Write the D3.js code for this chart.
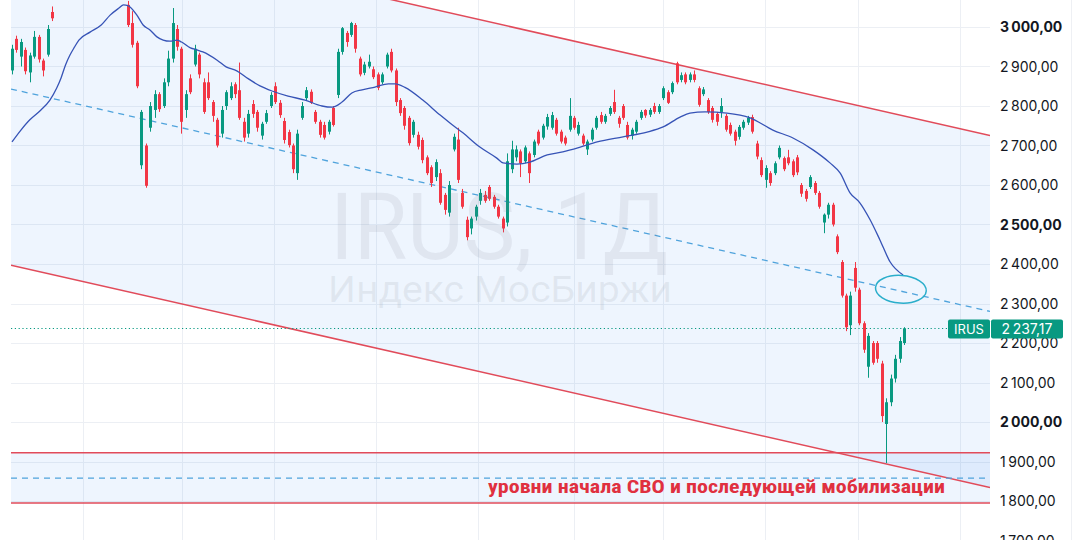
<!DOCTYPE html>
<html><head><meta charset="utf-8">
<script src="https://cdn.jsdelivr.net/npm/d3@7"></script>
<style>html,body{margin:0;padding:0;background:#fff;} svg{display:block;font-family:Inter,Roboto,"Noto Sans",sans-serif;}</style>
</head><body>
<svg id="chart" width="1080" height="540"></svg>
<script>
// ---- daily candles (bar index 0..200, nulls = no trading) ----
const open = [2890,2970,2925,2942,2885,2925,2975,2915,2930,3038,
 null,null,null,null,null,null,null,null,null,null,null,null,null,null,null,null,
 3056,3010,2960,2650,2700,2745,2790,2830,2800,2860,
 2920,2995,2945,2790,2870,2905,2930,2860,2860,2810,
 2765,2730,2800,2820,2855,2840,2760,2730,2805,2785,
 2725,2760,2800,2850,2808,2762,2734,2700,2630,2770,
 2820,2836,2785,2760,2752,2735,2795,2828,2937,2985,
 2980,3005,2920,2884,2900,2893,2880,2860,2900,2937,
 2890,2815,2795,2770,2727,2727,2714,2670,2645,2620,
 2630,2575,2530,2690,2715,2580,2512,2490,2520,2560,
 2575,2595,2570,2545,2515,2505,2640,2670,2685,2660,
 2680,2676,2735,2720,2748,2745,2765,2735,2720,2740,
 2770,2730,2725,2690,2715,2745,2777,2760,2780,2810,
 2770,2800,2752,2725,2735,2770,2790,2778,2800,2785,
 2820,2835,2835,2908,2866,2880,2866,2880,2845,2830,
 2815,2795,2780,2785,2775,2752,2735,2722,2745,2758,
 2772,2705,2663,2613,2630,2630,2670,2668,2670,2660,
 2670,2600,2585,2595,2605,2580,2505,2525,2550,2470,
 2405,2320,2245,2390,2335,2250,2140,2200,2200,2148,
 1995,2050,2110,2160,2200];
const high = [2955,2978,2970,2948,2935,2990,2980,2920,3005,3052,
 null,null,null,null,null,null,null,null,null,null,null,null,null,null,null,null,
 3066,3040,2965,2790,2705,2810,2840,2835,2870,2940,
 3048,3005,2950,2840,2880,2955,2935,2870,2885,2815,
 2770,2800,2840,2860,2860,2910,2770,2790,2815,2790,
 2760,2790,2835,2860,2815,2770,2740,2705,2740,2810,
 2848,2842,2790,2765,2760,2765,2800,2945,3000,2990,
 3013,3010,2925,2912,2930,2900,2885,2885,2935,2945,
 2895,2820,2800,2775,2765,2735,2720,2675,2650,2665,
 2640,2580,2610,2730,2745,2590,2520,2520,2550,2590,
 2585,2600,2575,2550,2520,2680,2712,2700,2690,2700,
 2685,2715,2740,2755,2780,2785,2770,2740,2725,2820,
 2775,2760,2730,2715,2745,2775,2785,2780,2800,2841,
 2775,2805,2760,2745,2765,2790,2792,2795,2808,2805,
 2850,2840,2862,2912,2885,2885,2885,2890,2850,2848,
 2820,2800,2785,2820,2780,2758,2740,2752,2765,2775,
 2778,2712,2670,2650,2635,2660,2700,2672,2689,2665,
 2676,2605,2590,2625,2610,2585,2528,2555,2555,2475,
 2410,2325,2330,2405,2340,2255,2225,2205,2205,2155,
 2060,2120,2170,2215,2240];
const low = [2880,2935,2900,2880,2860,2920,2910,2875,2925,3015,
 null,null,null,null,null,null,null,null,null,null,null,null,null,null,null,null,
 3000,2948,2845,2640,2593,2735,2770,2785,2795,2850,
 2910,2940,2730,2770,2830,2900,2870,2780,2815,2760,
 2695,2720,2790,2815,2820,2765,2710,2720,2770,2735,
 2715,2755,2795,2805,2770,2705,2695,2630,2613,2765,
 2815,2805,2755,2720,2715,2728,2748,2820,2930,2950,
 2975,2935,2875,2878,2895,2868,2840,2855,2895,2885,
 2800,2775,2740,2700,2720,2690,2655,2625,2595,2610,
 2550,2525,2520,2685,2605,2540,2460,2475,2510,2550,
 2555,2560,2540,2515,2480,2495,2630,2660,2620,2655,
 2605,2670,2700,2715,2740,2740,2725,2705,2700,2735,
 2740,2725,2700,2676,2710,2740,2755,2755,2775,2780,
 2745,2765,2715,2715,2730,2765,2770,2772,2780,2780,
 2815,2805,2830,2855,2860,2855,2860,2860,2798,2825,
 2780,2758,2750,2770,2735,2725,2700,2715,2740,2752,
 2730,2665,2620,2593,2598,2625,2665,2635,2650,2620,
 2625,2570,2558,2590,2575,2540,2478,2515,2495,2425,
 2315,2230,2220,2330,2245,2175,2112,2145,2150,2000,
 1896,2040,2100,2150,2195];
const close = [2945,2942,2962,2888,2928,2975,2918,2890,2995,3022,
 null,null,null,null,null,null,null,null,null,null,null,null,null,null,null,null,
 3005,2955,2850,2785,2598,2800,2830,2792,2860,2920,
 3010,2950,2760,2830,2835,2945,2880,2785,2820,2775,
 2700,2790,2835,2850,2830,2770,2720,2780,2780,2745,
 2755,2782,2828,2810,2777,2714,2701,2640,2730,2800,
 2840,2808,2760,2727,2720,2760,2752,2937,2997,2962,
 3010,2945,2880,2905,2912,2873,2846,2880,2930,2890,
 2810,2782,2750,2706,2760,2697,2663,2630,2605,2658,
 2555,2537,2600,2722,2613,2545,2468,2515,2545,2580,
 2560,2565,2545,2520,2490,2660,2690,2690,2655,2695,
 2630,2710,2705,2750,2772,2777,2730,2710,2705,2775,
 2745,2752,2705,2710,2740,2770,2760,2775,2795,2785,
 2755,2770,2720,2740,2760,2785,2776,2790,2785,2800,
 2845,2808,2858,2860,2878,2860,2880,2866,2803,2842,
 2785,2765,2760,2800,2740,2730,2712,2747,2760,2770,
 2735,2672,2625,2643,2605,2655,2694,2640,2655,2625,
 2632,2578,2565,2620,2580,2545,2525,2550,2500,2430,
 2320,2240,2320,2340,2250,2183,2218,2150,2160,2015,
 2050,2110,2160,2205,2237.17];

// ---- moving average ----
const maIndex = [0,2,4,6,8.5,10,11,12,13,14,15,17.5,20,22,24,25,26,28,29.4,31,32.5,33.9,35.4,37,38,40,41.5,42.8,46,48,50.4,52.7,55.6,58.3,61.9,65.7,69.5,71.8,74,76.2,78.5,81.4,84.4,86,88.1,92.1,96,98.2,101.1,104.9,108.7,110.1,113.2,116.1,120,123.5,127.4,131.2,137,142.4,146,149.8,152,155.4,160.3,165.5,170.6,175.1,179.6,183.4,185.7,187.9,190.1,192.4,194.6,196.9,199.8];
const maValue = [2709,2739,2765,2785,2815,2845,2871,2904,2929,2949,2967,2987,3005,3030,3048,3056,3054,3030,3005,2992,2975,2967,2964,2967,2962,2947,2942,2937,2916,2899,2889,2871,2851,2838,2825,2815,2800,2797,2810,2833,2841,2848,2856,2856,2847,2815,2777,2757,2732,2696,2668,2656,2653,2658,2676,2684,2696,2709,2722,2734,2747,2772,2782,2785,2782,2770,2739,2719,2689,2656,2630,2580,2555,2512,2461,2405,2372];

// ---- drawings ----
const channelUpper = [3288, 2725];
const channelMiddle = [2843, 2280];
const channelLower = [2397, 1834];
const levelTop = 1922, levelMid = 1858, levelBottom = 1795;
const monthIdx = [15.9, 38.1, 58.7, 81.6, 104.5, 126, 146, 168.8, 189.7, 212.6];
const priceTicks = d3.range(1700, 3001, 100);
const lastPrice = 2237.17;
const ticker = "IRUS";
const watermark1 = "IRUS, 1Д";
const watermark2 = "Индекс МосБиржи";
const noteText = "уровни начала СВО и последующей мобилизации";
const ellipseAt = {i: 199.3, v: 2336, di: 5.7, dv: 35};

const svg = d3.select('#chart');
const L = 11, R = 990;
const x = d3.scaleLinear().domain([0, 200]).range([12, 904]);
const y = d3.scaleLinear().domain([1700, 3000]).range([540.5, 27]);
const iL = x.invert(L), iR = x.invert(R);

const fmt = d3.formatLocale({decimal: ",", thousands: "\u2009", grouping: [3], currency: ["", ""]}).format(",.2f");

svg.append('rect').attr('width', 1080).attr('height', 540).attr('fill', '#fff');
const defs = svg.append('defs');
defs.append('clipPath').attr('id', 'plot').append('rect').attr('x', L).attr('y', 0).attr('width', R - L).attr('height', 540);
const g = svg.append('g').attr('clip-path', 'url(#plot)');

// grid
g.selectAll('.hg').data(priceTicks).join('line')
  .attr('x1', L).attr('x2', R).attr('y1', d => Math.round(y(d)) + 0.5).attr('y2', d => Math.round(y(d)) + 0.5)
  .attr('stroke', '#eceff4').attr('stroke-width', 1);
g.selectAll('.vg').data(monthIdx).join('line')
  .attr('x1', d => Math.round(x(d)) + 0.5).attr('x2', d => Math.round(x(d)) + 0.5).attr('y1', 0).attr('y2', 540)
  .attr('stroke', '#eceff4').attr('stroke-width', 1);

// channel fill
const chan = [{i: iL, hi: channelUpper[0], lo: channelLower[0]}, {i: iR, hi: channelUpper[1], lo: channelLower[1]}];
g.append('path').datum(chan).attr('d', d3.area().x(d => x(d.i)).y0(d => y(d.lo)).y1(d => y(d.hi)))
  .attr('fill', 'rgba(33,120,243,0.075)');
// level band fill
g.append('rect').attr('x', L).attr('width', R - L).attr('y', y(levelTop)).attr('height', y(levelBottom) - y(levelTop))
  .attr('fill', 'rgba(33,120,243,0.075)');

// watermark
svg.append('text').attr('x', 499).attr('y', 259).attr('text-anchor', 'middle')
  .attr('font-family', 'Roboto, Inter, sans-serif').attr('font-size', 92).attr('textLength', 338).attr('lengthAdjust', 'spacingAndGlyphs')
  .attr('fill', 'rgba(120,126,140,0.12)').text(watermark1);
svg.append('text').attr('x', 500).attr('y', 302).attr('text-anchor', 'middle')
  .attr('font-family', 'Roboto, Inter, sans-serif').attr('font-size', 36).attr('textLength', 344).attr('lengthAdjust', 'spacingAndGlyphs')
  .attr('fill', 'rgba(120,126,140,0.12)').text(watermark2);

// channel lines
const line2 = (vals) => [[iL, vals[0]], [iR, vals[1]]];
const ln = d3.line().x(d => x(d[0])).y(d => y(d[1]));
g.append('path').attr('d', ln(line2(channelUpper))).attr('stroke', '#e14b5a').attr('stroke-width', 1.5).attr('fill', 'none');
g.append('path').attr('d', ln(line2(channelLower))).attr('stroke', '#e14b5a').attr('stroke-width', 1.5).attr('fill', 'none');
g.append('path').attr('d', ln(line2(channelMiddle))).attr('stroke', '#4fa3dc').attr('stroke-width', 1.3)
  .attr('stroke-dasharray', '6,5').attr('fill', 'none');
// horizontal levels
[levelTop, levelBottom].forEach(v => {
  g.append('line').attr('x1', L).attr('x2', R).attr('y1', y(v)).attr('y2', y(v)).attr('stroke', '#e14b5a').attr('stroke-width', 1.5);
});
g.append('line').attr('x1', L).attr('x2', R).attr('y1', y(levelMid)).attr('y2', y(levelMid))
  .attr('stroke', '#4fa3dc').attr('stroke-width', 1.3).attr('stroke-dasharray', '6,5');

// last price dotted line
g.append('line').attr('x1', L).attr('x2', 948).attr('y1', Math.round(y(lastPrice)) + 0.5).attr('y2', Math.round(y(lastPrice)) + 0.5)
  .attr('stroke', '#089981').attr('stroke-width', 1).attr('stroke-dasharray', '1.2,2.6');

// candles
const bars = d3.range(open.length).filter(i => open[i] != null).map(i => ({i, o: open[i], h: high[i], l: low[i], c: close[i]}));
const up = '#089981', dn = '#f23645';
const cg = g.append('g');
cg.selectAll('.w').data(bars).join('line')
  .attr('x1', d => Math.round(x(d.i)) + 0.5).attr('x2', d => Math.round(x(d.i)) + 0.5)
  .attr('y1', d => y(d.h)).attr('y2', d => y(d.l))
  .attr('stroke', d => d.c >= d.o ? up : dn).attr('stroke-width', 1);
cg.selectAll('.b').data(bars).join('rect')
  .attr('x', d => Math.round(x(d.i)) - 1).attr('width', 3)
  .attr('y', d => y(Math.max(d.o, d.c))).attr('height', d => Math.max(1, Math.abs(y(d.o) - y(d.c))))
  .attr('fill', d => d.c >= d.o ? up : dn);

// moving average
g.append('path').datum(d3.zip(maIndex, maValue))
  .attr('d', d3.line().x(d => x(d[0])).y(d => y(d[1])).curve(d3.curveMonotoneX))
  .attr('fill', 'none').attr('stroke', '#3653b6').attr('stroke-width', 1.3);

// ellipse annotation
g.append('ellipse').attr('cx', x(ellipseAt.i)).attr('cy', y(ellipseAt.v))
  .attr('rx', x(ellipseAt.i + ellipseAt.di) - x(ellipseAt.i)).attr('ry', y(ellipseAt.v - ellipseAt.dv) - y(ellipseAt.v))
  .attr('fill', 'none').attr('stroke', '#2aaecb').attr('stroke-width', 1.5)
  .attr('transform', `rotate(4 ${x(ellipseAt.i)} ${y(ellipseAt.v)})`);

// note text
svg.append('text').attr('x', 488).attr('y', 493)
  .attr('font-family', '"Liberation Sans Narrow", "Roboto Condensed", Roboto, sans-serif').attr('font-weight', 700).attr('font-size', 19)
  .attr('textLength', 457).attr('lengthAdjust', 'spacingAndGlyphs').attr('fill', '#e0303f').text(noteText);

// price axis
svg.append('line').attr('x1', 1071.5).attr('x2', 1071.5).attr('y1', 0).attr('y2', 540).attr('stroke', '#eef0f4');
svg.selectAll('.lab').data(priceTicks).join('text')
  .attr('x', 1000).attr('y', d => y(d)).attr('dy', '0.36em')
  .attr('font-family', 'Inter, Roboto, sans-serif').attr('font-size', 14)
  .attr('font-weight', d => d % 500 === 0 ? 700 : 400)
  .attr('fill', '#131722').text(d => fmt(d));

// badges
const by = Math.round(y(lastPrice)) + 1;
svg.append('rect').attr('x', 948).attr('y', by - 9.5).attr('width', 42).attr('height', 19).attr('rx', 2).attr('fill', '#089981');
svg.append('text').attr('x', 969).attr('y', by).attr('dy', '0.36em').attr('text-anchor', 'middle')
  .attr('font-family', 'Inter, Roboto, sans-serif').attr('font-size', 13).attr('fill', '#fff').text(ticker);
svg.append('rect').attr('x', 991).attr('y', by - 9.5).attr('width', 72).attr('height', 19).attr('rx', 2).attr('fill', '#089981');
svg.append('text').attr('x', 1027).attr('y', by).attr('dy', '0.36em').attr('text-anchor', 'middle')
  .attr('font-family', 'Inter, Roboto, sans-serif').attr('font-size', 14).attr('fill', '#fff').text(fmt(lastPrice));
</script>
</body></html>
